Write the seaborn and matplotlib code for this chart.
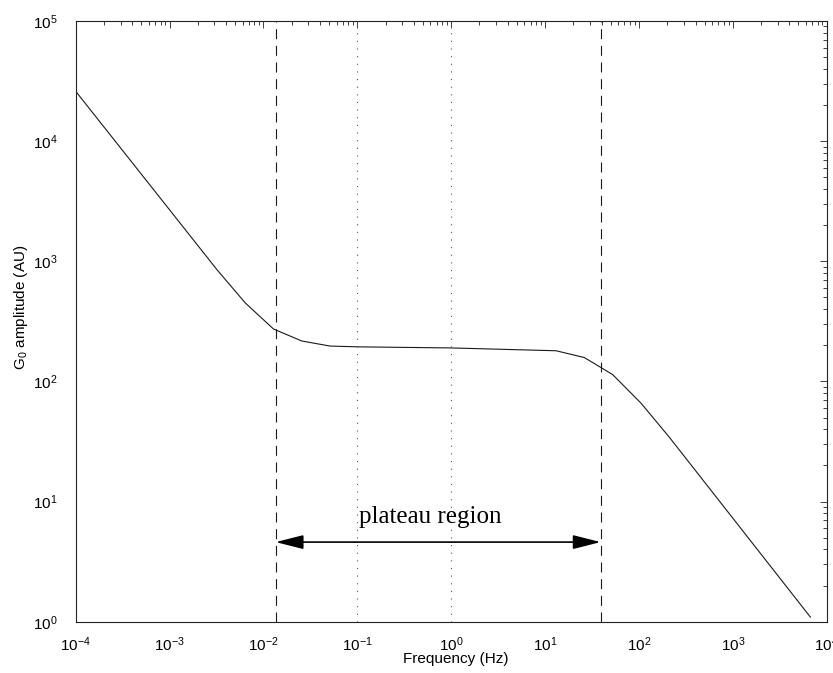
import numpy as np
import pandas as pd
import matplotlib
matplotlib.use("Agg")
import matplotlib.pyplot as plt
from matplotlib.ticker import LogLocator, NullFormatter
from matplotlib.patches import ArrowStyle
import seaborn as sns

# Frequency response of G0 (AU) against frequency (Hz)
freq_hz = [1e-4, 3.2e-3, 6.4e-3, 1.28e-2, 2.56e-2, 5.12e-2, 1.024e-1,
           1.0, 13.1, 26.2, 52.4, 104.9, 210.0, 6710.0]
g0_amplitude = [2.6e4, 850, 450, 273, 217, 197, 194,
                190, 180, 158, 114, 66, 34.4, 1.09]

# Boundaries of the plateau and reference frequencies
plateau_edges_hz = [0.0135, 39.0]
reference_hz = [0.1, 1.0]
arrow_level = 4.6
plateau_label = "plateau region"
plateau_label_pos = (0.603, 6.6)

x_label = "Frequency (Hz)"
y_label = "G$_0$ amplitude (AU)"

sns.set_style("white")
plt.rcParams["font.family"] = ["Liberation Sans", "DejaVu Sans"]
plt.rcParams["mathtext.fontset"] = "custom"
plt.rcParams["mathtext.rm"] = "Liberation Sans"
plt.rcParams["mathtext.default"] = "regular"
plt.rcParams["lines.scale_dashes"] = False

df = pd.DataFrame({"freq": freq_hz, "amp": g0_amplitude})

fig = plt.figure(figsize=(8.33, 6.73), dpi=100)
ax = fig.add_axes([0.0909, 0.0762, 0.9016, 0.8926])

sns.lineplot(data=df, x="freq", y="amp", ax=ax, color="#1a1a1a",
             linewidth=0.8, sort=False)

ax.set_xscale("log")
ax.set_yscale("log")
ax.set_xlim(1e-4, 1e4)
ax.set_ylim(1e0, 1e5)

for xv in plateau_edges_hz:
    ax.axvline(xv, color="#1a1a1a", linewidth=0.8, dashes=(7.2, 4.8))
for xv in reference_hz:
    ax.axvline(xv, color="#555555", linewidth=0.8, dashes=(0.8, 4.7))

ax.annotate("", xy=(plateau_edges_hz[1], arrow_level),
            xytext=(plateau_edges_hz[0], arrow_level),
            arrowprops=dict(arrowstyle=ArrowStyle("<|-|>", head_length=1.7,
                                                  head_width=0.43),
                            mutation_scale=10, color="black", lw=1.2,
                            shrinkA=0, shrinkB=0))
ax.text(plateau_label_pos[0], plateau_label_pos[1], plateau_label,
        family=["Liberation Serif", "DejaVu Serif"], fontsize=18,
        ha="center", va="baseline", color="black")

ax.xaxis.set_major_locator(LogLocator(base=10, numticks=20))
ax.yaxis.set_major_locator(LogLocator(base=10, numticks=20))
ax.xaxis.set_minor_locator(LogLocator(base=10, subs=np.arange(2, 10), numticks=20))
ax.yaxis.set_minor_locator(LogLocator(base=10, subs=np.arange(2, 10), numticks=20))
ax.xaxis.set_minor_formatter(NullFormatter())
ax.yaxis.set_minor_formatter(NullFormatter())

ax.tick_params(which="both", direction="in", top=True, right=True,
               color="#222222", width=0.6, labelsize=11, labelcolor="black")
ax.tick_params(which="major", length=5)
ax.tick_params(which="minor", length=2.6)
ax.tick_params(axis="x", which="major", pad=10)
ax.tick_params(axis="y", which="major", pad=13)

for sp in ax.spines.values():
    sp.set_color("#222222")
    sp.set_linewidth(0.8)

ax.set_xlabel(x_label, fontsize=11, color="black")
ax.set_ylabel(y_label, fontsize=11, color="black")
ax.xaxis.set_label_coords(0.5057, -0.051)
ax.yaxis.set_label_coords(-0.061, 0.524)

fig.savefig("out.png", dpi=100)
